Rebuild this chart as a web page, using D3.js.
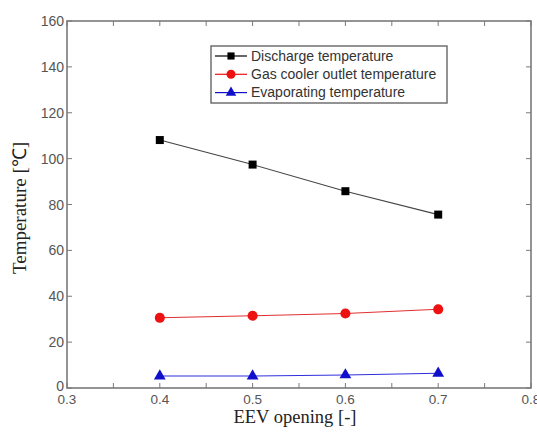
<!DOCTYPE html>
<html>
<head>
<meta charset="utf-8">
<script src="https://cdn.jsdelivr.net/npm/d3@7"></script>
<style>
  body { margin: 0; background: #fff; }
  svg { display: block; }
</style>
</head>
<body>
<div id="chart"></div>
<script>
// data
const eevOpening = [0.4, 0.5, 0.6, 0.7];
const dischargeTemp = [108.1, 97.4, 85.8, 75.6];
const gasCoolerTemp = [30.6, 31.5, 32.5, 34.3];
const evapTemp = [5.2, 5.2, 5.7, 6.4];
const xTicks = [0.3, 0.4, 0.5, 0.6, 0.7, 0.8];
const yTicks = [0, 20, 40, 60, 80, 100, 120, 140, 160];
const seriesNames = ["Discharge temperature", "Gas cooler outlet temperature", "Evaporating temperature"];

const W = 537, H = 432;
const margin = { top: 21, right: 6, bottom: 44, left: 67 };

const svg = d3.select("#chart").append("svg")
  .attr("width", W).attr("height", H);

const x = d3.scaleLinear().domain([0.3, 0.8]).range([margin.left, W - margin.right]);
const y = d3.scaleLinear().domain([0, 160]).range([H - margin.bottom, margin.top]);

const axisColor = "#7a7a7a";
const minorX = d3.range(0.3, 0.801, 0.05);

// box + ticks
const frame = svg.append("g");
frame.append("rect")
  .attr("x", x(0.3)).attr("y", y(160))
  .attr("width", x(0.8) - x(0.3)).attr("height", y(0) - y(160))
  .attr("fill", "none").attr("stroke", axisColor).attr("stroke-width", 1.6);

// x ticks, bottom and top, pointing in
frame.selectAll(".xt").data(minorX).enter().append("line")
  .attr("x1", d => x(d)).attr("x2", d => x(d))
  .attr("y1", y(0)).attr("y2", y(0) - 5)
  .attr("stroke", axisColor);
frame.selectAll(".xtt").data(minorX).enter().append("line")
  .attr("x1", d => x(d)).attr("x2", d => x(d))
  .attr("y1", y(160)).attr("y2", y(160) + 5)
  .attr("stroke", axisColor);
// y ticks, left and right
frame.selectAll(".yt").data(yTicks).enter().append("line")
  .attr("x1", x(0.3)).attr("x2", x(0.3) + 5)
  .attr("y1", d => y(d)).attr("y2", d => y(d))
  .attr("stroke", axisColor);
frame.selectAll(".ytr").data(yTicks).enter().append("line")
  .attr("x1", x(0.8)).attr("x2", x(0.8) - 5)
  .attr("y1", d => y(d)).attr("y2", d => y(d))
  .attr("stroke", axisColor);

// tick labels
svg.append("g").selectAll("text").data(xTicks).enter().append("text")
  .attr("x", d => x(d)).attr("y", y(0) + 16)
  .attr("text-anchor", "middle")
  .style("font-family", "Liberation Sans, Arial, sans-serif")
  .style("font-size", "13.5px").attr("fill", "#555")
  .text(d => d3.format(".1f")(d));
svg.append("g").selectAll("text").data(yTicks).enter().append("text")
  .attr("x", x(0.3) - 3).attr("y", d => y(d) + (d === 0 ? 3 : 5))
  .attr("text-anchor", "end")
  .style("font-family", "Liberation Sans, Arial, sans-serif")
  .style("font-size", "14px").attr("fill", "#555")
  .text(d => d);

// axis titles
svg.append("text")
  .attr("x", (x(0.3) + x(0.8)) / 2 - 4).attr("y", 423)
  .attr("text-anchor", "middle")
  .style("font-family", "Liberation Serif, Times New Roman, serif")
  .style("font-size", "18.5px").attr("fill", "#222")
  .text("EEV opening [-]");
svg.append("text")
  .attr("transform", "translate(26," + 208 + ") rotate(-90)")
  .attr("text-anchor", "middle")
  .style("font-family", "Liberation Serif, Times New Roman, serif")
  .style("font-size", "19px").attr("fill", "#222")
  .text("Temperature [℃]");

// series
const series = [
  { name: seriesNames[0], values: dischargeTemp, color: "#000", line: "#444", shape: d3.symbolSquare, size: 64 },
  { name: seriesNames[1], values: gasCoolerTemp, color: "#ee1111", line: "#e03030", shape: d3.symbolCircle, size: 80 },
  { name: seriesNames[2], values: evapTemp, color: "#1010cc", line: "#3030dd", shape: d3.symbolTriangle, size: 60 }
];

const line = d3.line().x(d => x(d[0])).y(d => y(d[1]));

series.forEach(s => {
  const pts = eevOpening.map((v, i) => [v, s.values[i]]);
  svg.append("path").datum(pts)
    .attr("d", line).attr("fill", "none")
    .attr("stroke", s.line).attr("stroke-width", 1.1);
  svg.append("g").selectAll("path").data(pts).enter().append("path")
    .attr("transform", d => `translate(${x(d[0])},${y(d[1])})`)
    .attr("d", d3.symbol().type(s.shape).size(s.size))
    .attr("fill", s.color);
});

// legend
const leg = svg.append("g");
leg.append("rect")
  .attr("x", 211).attr("y", 46).attr("width", 236).attr("height", 57)
  .attr("fill", "#fff").attr("stroke", "#666").attr("stroke-width", 1.4);
series.forEach((s, i) => {
  const ly = 56 + i * 18.3;
  leg.append("line").attr("x1", 215).attr("x2", 247).attr("y1", ly).attr("y2", ly)
    .attr("stroke", s.color).attr("stroke-width", 1.2);
  leg.append("path").attr("transform", `translate(231,${ly})`)
    .attr("d", d3.symbol().type(s.shape).size(s.size * 0.8))
    .attr("fill", s.color);
  leg.append("text").attr("x", 251).attr("y", ly + 4.5)
    .style("font-family", "Liberation Sans, Arial, sans-serif")
    .style("font-size", "14px").attr("fill", "#333")
    .text(s.name);
});
</script>
</body>
</html>
